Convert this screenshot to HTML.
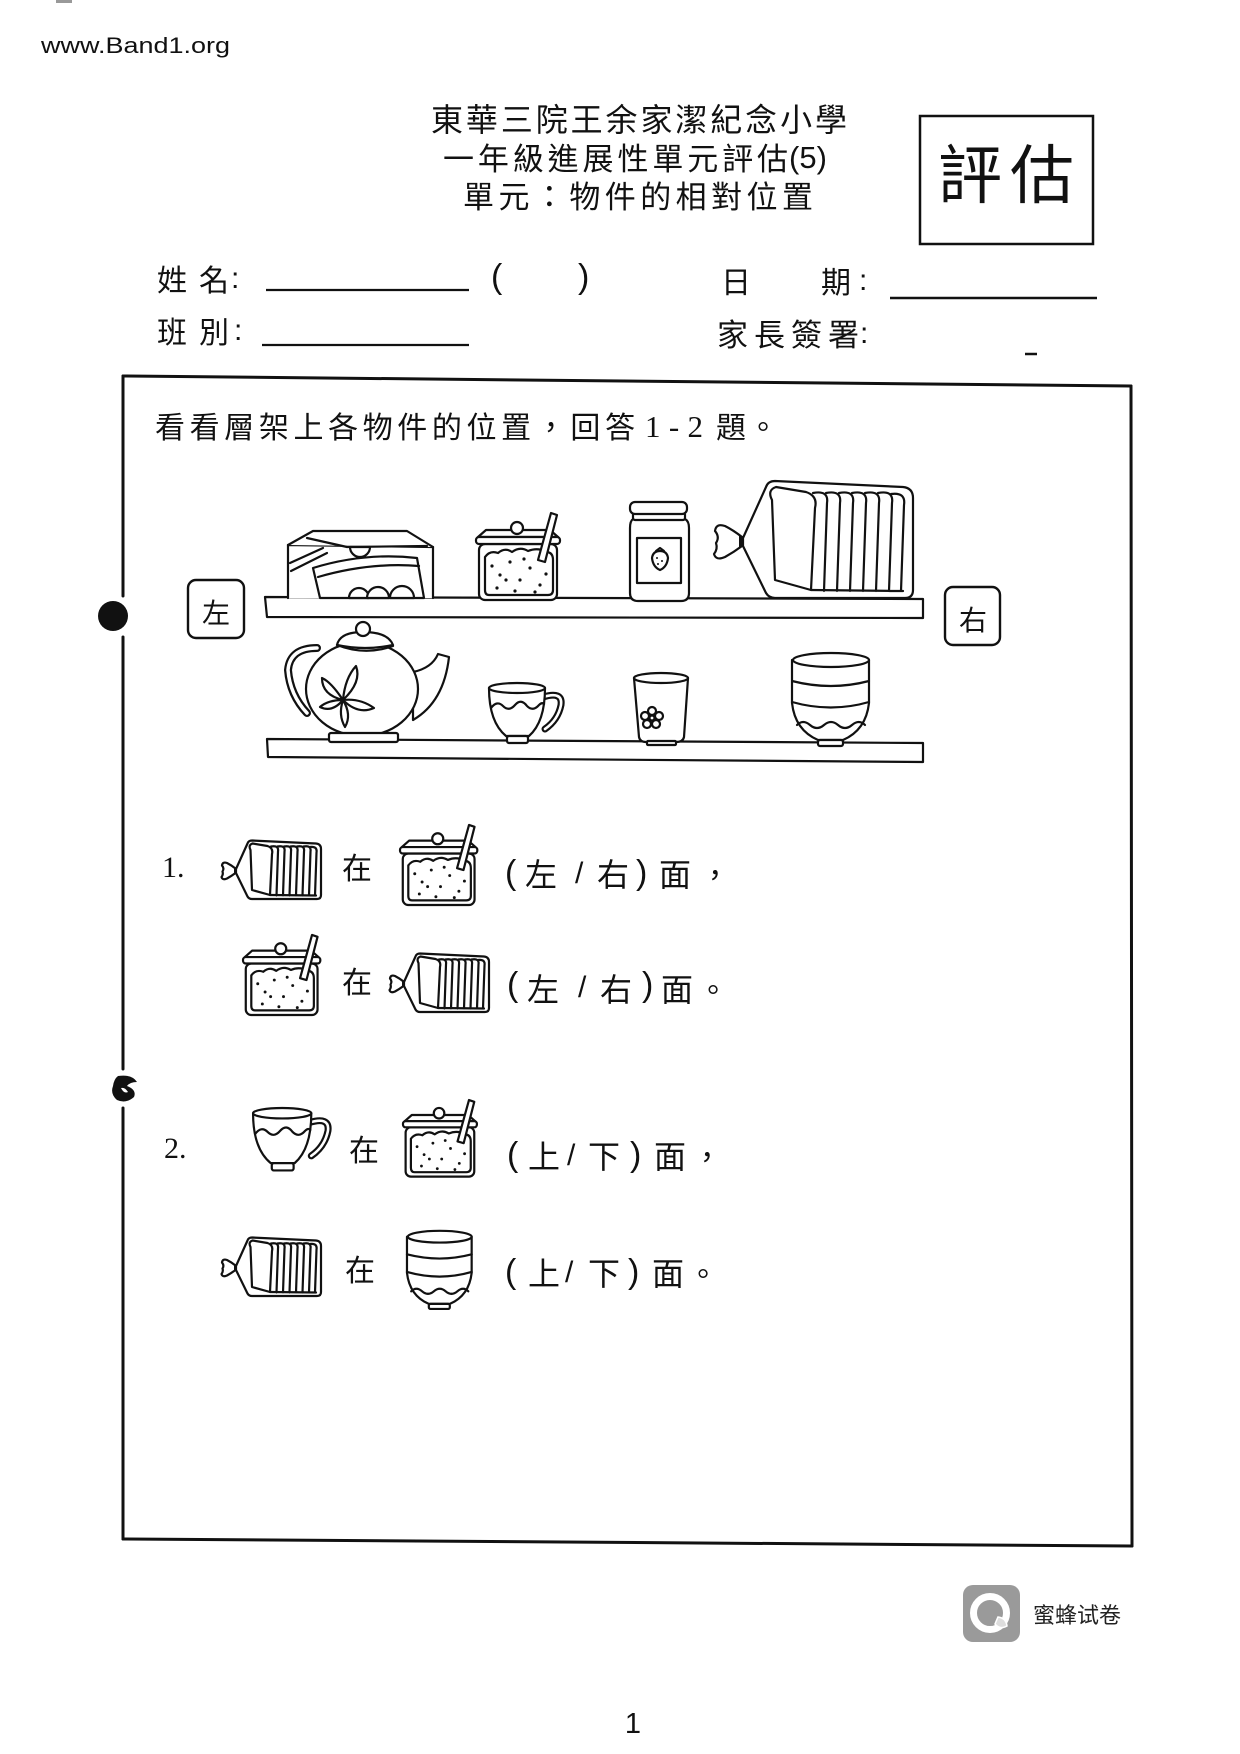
<!DOCTYPE html>
<html><head><meta charset="utf-8"><style>
html,body{margin:0;padding:0;background:#fff;}
svg{display:block;}
.c{font-family:"Liberation Sans","Noto Sans CJK TC",sans-serif;fill:#111;}
.s{font-family:"Liberation Serif","Noto Serif CJK SC",serif;fill:#111;}
.l{fill:none;stroke:#111;stroke-width:2.2;stroke-linejoin:round;stroke-linecap:round;}
.w{fill:#fff;stroke:#111;stroke-width:2.2;stroke-linejoin:round;stroke-linecap:round;}
.icon path,.icon rect,.icon ellipse,.icon circle,.icon polygon{vector-effect:non-scaling-stroke;}
</style></head><body>
<svg width="1240" height="1754" viewBox="0 0 1240 1754" xmlns="http://www.w3.org/2000/svg">
<defs>
<g id="bread" class="icon">
  <path class="w" d="M743,538 L766,487 Q768,481 775,481 L903,487 Q913,488 913,498 L913,590 Q913,598 905,598 L775,598 Q769,598 766,593 L743,546 Z"/>
  <path class="w" d="M742,537 Q733,530 725,526 Q716,523 715,531 Q720,537 716,543 Q718,549 714,554 Q716,561 725,557 Q734,552 742,546 Z"/>
  <rect x="739" y="536" width="5" height="11" fill="#111"/>
  <path class="w" d="M772,500 Q767,490 776,487 L806,492 Q818,496 815,508 L811,590 L775,580 Z"/>
  <path class="l" d="M813,493 Q829,490 827,503 L824,591 M826,493 Q842,490 840,503 L837,591 M839,493 Q855,490 853,503 L850,591 M852,493 Q868,490 866,503 L863,591 M865,493 Q881,490 879,503 L876,591 M878,493 Q894,490 892,503 L889,591 M891,494 Q906,492 904,505 L901,591 M811,590 L903,591"/>
</g>
<g id="sugar" class="icon">
  <rect class="w" x="479" y="544" width="78" height="56" rx="6"/>
  <path class="l" d="M485,557 Q490,550 498,553 Q505,547 512,552 Q520,546 528,551 Q538,547 546,552 Q553,552 553,560 L553,590 Q553,595 548,595 L489,595 Q485,595 485,590 Z"/>
  <g fill="#111">
    <circle cx="492" cy="566" r="1.6"/><circle cx="500" cy="575" r="1.6"/><circle cx="510" cy="562" r="1.6"/>
    <circle cx="520" cy="580" r="1.6"/><circle cx="530" cy="568" r="1.6"/><circle cx="540" cy="585" r="1.6"/>
    <circle cx="497" cy="588" r="1.6"/><circle cx="515" cy="591" r="1.6"/><circle cx="546" cy="574" r="1.6"/>
    <circle cx="524" cy="559" r="1.6"/><circle cx="506" cy="580" r="1.6"/><circle cx="535" cy="592" r="1.6"/>
  </g>
  <path class="w" d="M478,537 L486,530 L550,530 L558,537 Z"/>
  <rect class="w" x="476" y="537" width="84" height="7" rx="3"/>
  <circle class="w" cx="517" cy="528" r="6"/>
  <polygon class="w" points="538,560 551,513 557,515 545,562"/>
</g>
<g id="cup" class="icon">
  <path d="M543,697 Q563,691 561,705 Q558,720 545,729" fill="none" stroke="#111" stroke-width="7" stroke-linecap="round"/>
  <path d="M543,697 Q563,691 561,705 Q558,720 545,729" fill="none" stroke="#fff" stroke-width="2.6" stroke-linecap="round"/>
  <path class="w" d="M489,688 Q489,722 506,736 L529,736 Q545,722 545,688 Z"/>
  <ellipse class="w" cx="517" cy="688" rx="28" ry="5"/>
  <path class="l" d="M491,708 Q497,700 503,706 Q509,712 515,705 Q521,698 527,706 Q533,712 539,705 Q542,702 544,704"/>
  <rect class="w" x="507" y="736" width="21" height="7" rx="2"/>
</g>
<g id="bowls" class="icon">
  <path class="w" d="M792,660 L792,703 Q795,730 818,740 L843,740 Q866,730 869,703 L869,660 Z"/>
  <ellipse class="w" cx="831" cy="660" rx="38" ry="7"/>
  <path class="l" d="M792,681 Q831,691 869,681 M792,702 Q831,713 869,702"/>
  <path class="l" d="M797,725 Q803,719 810,725 Q817,731 824,725 Q831,719 838,725 Q845,731 852,725 Q859,719 865,725"/>
  <rect class="w" x="818" y="740" width="25" height="6" rx="2"/>
</g>
</defs>

<!-- top-left speck -->
<rect x="56" y="0" width="16" height="3" fill="#999"/>
<text x="41" y="53" font-family="Liberation Sans, sans-serif" font-size="22" textLength="189" lengthAdjust="spacingAndGlyphs" fill="#111">www.Band1.org</text>

<!-- Title -->
<text class="c" x="431" y="131" font-size="32" textLength="416" lengthAdjust="spacing">東華三院王余家潔紀念小學</text>
<text class="c" x="443" y="170" font-size="31" textLength="345" lengthAdjust="spacing">一年級進展性單元評估</text>
<text x="789" y="168" font-family="Liberation Sans, sans-serif" font-size="31" fill="#111">(5)</text>
<text class="c" x="463" y="208" font-size="31" textLength="350" lengthAdjust="spacing">單元：物件的相對位置</text>

<rect x="920" y="116" width="173" height="128" fill="none" stroke="#111" stroke-width="2.5"/>
<text class="c" x="938" y="198" font-size="64" textLength="136" lengthAdjust="spacing">評估</text>

<!-- Name rows -->
<text class="c" x="157" y="291" font-size="30" textLength="72" lengthAdjust="spacing">姓名</text>
<text x="231" y="288" font-family="Liberation Sans, sans-serif" font-size="30" fill="#111">:</text>
<line x1="266" y1="290" x2="469" y2="290" stroke="#111" stroke-width="2.2"/>
<text x="491" y="288" font-family="Liberation Sans, sans-serif" font-size="34" fill="#111">(</text>
<text x="578" y="288" font-family="Liberation Sans, sans-serif" font-size="34" fill="#111">)</text>
<text class="c" x="721" y="293" font-size="30">日</text>
<text class="c" x="821" y="293" font-size="30">期</text>
<text x="859" y="290" font-family="Liberation Sans, sans-serif" font-size="30" fill="#111">:</text>
<line x1="890" y1="298" x2="1097" y2="298" stroke="#111" stroke-width="2.4"/>

<text class="c" x="157" y="343" font-size="30" textLength="72" lengthAdjust="spacing">班別</text>
<text x="234" y="340" font-family="Liberation Sans, sans-serif" font-size="30" fill="#111">:</text>
<line x1="262" y1="345" x2="469" y2="345" stroke="#111" stroke-width="2.2"/>
<text class="c" x="717" y="346" font-size="31" textLength="142" lengthAdjust="spacing">家長簽署</text>
<text x="860" y="343" font-family="Liberation Sans, sans-serif" font-size="30" fill="#111">:</text>
<line x1="1025" y1="354" x2="1037" y2="354" stroke="#111" stroke-width="2.5"/>

<!-- Frame -->
<g stroke="#111" stroke-width="3" fill="none" stroke-linecap="round">
  <path d="M123,376 L1131,386"/>
  <path d="M1131,386 L1132,1546"/>
  <path d="M123,1539 L1132,1546"/>
  <path d="M123,376 L123,596 M123,637 L123,1069 M123,1108 L123,1539"/>
</g>
<circle cx="113" cy="616" r="15" fill="#111"/>
<path d="M118,1076 Q132,1074 137,1082 Q130,1082 127,1086 Q137,1090 134,1097 Q126,1104 117,1100 Q110,1094 113,1086 Q114,1079 118,1076 Z M121,1088 Q124,1094 128,1092 Q125,1087 121,1088 Z" fill="#111" fill-rule="evenodd"/>

<!-- Instruction -->
<text class="c" x="155" y="438" font-size="30" textLength="480" lengthAdjust="spacing">看看層架上各物件的位置，回答</text>
<text class="s" x="645" y="437" font-size="31" textLength="58" lengthAdjust="spacing">1-2</text>
<text class="c" x="716" y="438" font-size="30">題</text>
<text class="c" x="748" y="438" font-size="30">。</text>

<!-- Shelves -->
<path class="w" d="M265,597 L923,599 L923,618 L267,617 Z" stroke-width="2.8"/>
<path class="w" d="M267,739 L923,743 L923,762 L268,757 Z" stroke-width="2.8"/>

<rect x="188" y="580" width="56" height="58" rx="8" fill="none" stroke="#111" stroke-width="2.4"/>
<text class="c" x="202" y="623" font-size="28">左</text>
<rect x="945" y="587" width="55" height="58" rx="8" fill="none" stroke="#111" stroke-width="2.4"/>
<text class="c" x="959" y="630" font-size="28">右</text>

<!-- Cereal box -->
<g>
  <path class="w" d="M288,598 L288,545 L433,547 L433,598"/>
  <path class="w" d="M288,545 L313,531 L407,531 L433,547"/>
  <path class="l" d="M307,538 L347,547 L427,546"/>
  <path class="w" d="M350,547 A10,10 0 0 0 370,547 Z"/>
  <path class="l" d="M290,563 L323,548 M291,571 L327,553"/>
  <path class="w" d="M313,568 Q365,552 417,558 L424,598 L320,598 Z"/>
  <path class="l" d="M318,577 Q370,562 419,566"/>
  <path class="w" d="M349,598 A10,10 0 0 1 369,598 Z"/>
  <path class="w" d="M367,598 A11,11 0 0 1 389,598 Z"/>
  <path class="w" d="M390,598 A12,12 0 0 1 414,598 Z"/>
</g>

<use href="#sugar"/>

<!-- Jam jar -->
<g>
  <path class="w" d="M633,519 Q630,521 630,528 L630,593 Q630,601 638,601 L681,601 Q689,601 689,593 L689,528 Q689,521 685,519 Z"/>
  <rect class="w" x="633" y="513" width="52" height="7" rx="2"/>
  <rect class="w" x="630" y="502" width="57" height="12" rx="5"/>
  <rect class="w" x="637" y="538" width="44" height="45"/>
  <path class="w" d="M660,551 Q667,551 668,558 Q667,567 660,570 Q653,567 652,558 Q653,551 660,551 Z"/>
  <path class="l" d="M656,551 L660,548 L664,551"/>
  <g fill="#111"><circle cx="657" cy="558" r="1"/><circle cx="662" cy="561" r="1"/><circle cx="658" cy="564" r="1"/></g>
</g>

<use href="#bread"/>

<!-- Teapot -->
<g>
  <path d="M317,648 Q290,648 288,670 Q290,695 307,713" fill="none" stroke="#111" stroke-width="8" stroke-linecap="round"/>
  <path d="M317,648 Q290,648 288,670 Q290,695 307,713" fill="none" stroke="#fff" stroke-width="3.5" stroke-linecap="round"/>
  <path class="w" d="M413,672 Q432,668 438,654 L449,657 Q444,702 413,720 Z"/>
  <ellipse class="w" cx="362" cy="689" rx="56" ry="47"/>
  <rect class="w" x="329" y="733" width="69" height="9" rx="2"/>
  <path class="w" d="M337,645 Q340,632 363,632 Q388,632 393,645 Q365,651 337,645 Z"/>
  <path class="l" d="M337,645 Q365,656 393,646"/>
  <circle class="w" cx="363" cy="629" r="7"/>
  <g>
    <path class="w" d="M343,700 Q345,678 356,666 Q362,682 343,700 Z"/>
    <path class="w" d="M343,700 Q331,682 322,678 Q322,695 343,700 Z"/>
    <path class="w" d="M343,700 Q328,700 320,707 Q332,713 343,700 Z"/>
    <path class="w" d="M343,700 Q338,715 345,727 Q352,715 343,700 Z"/>
    <path class="w" d="M343,700 Q360,698 374,708 Q358,715 343,700 Z"/>
    <circle cx="343" cy="700" r="2" fill="#111"/>
  </g>
</g>

<use href="#cup"/>

<!-- Glass -->
<g>
  <path class="w" d="M634,678 L688,678 L684,737 Q683,742 676,742 L646,742 Q640,742 639,737 Z"/>
  <ellipse class="w" cx="661" cy="678" rx="27" ry="5"/>
  <rect class="w" x="647" y="741" width="29" height="4" rx="1"/>
  <g class="w" stroke-width="1.8">
    <circle cx="652" cy="711" r="4"/><circle cx="659" cy="716" r="4"/><circle cx="656" cy="724" r="4"/>
    <circle cx="647" cy="724" r="4"/><circle cx="645" cy="716" r="4"/><circle cx="652" cy="718" r="2.5"/>
  </g>
</g>

<use href="#bowls"/>

<!-- Question 1 -->
<text class="s" x="162" y="877" font-size="30">1.</text>
<use href="#bread" transform="translate(-135.5,600) scale(0.5)"/>
<text class="c" x="342" y="879" font-size="30">在</text>
<use href="#sugar" transform="translate(-37.9,353) scale(0.92)"/>
<text x="505" y="884" font-family="Liberation Sans, sans-serif" font-size="34" fill="#111">(</text>
<text class="c" x="525" y="886" font-size="32">左</text>
<text x="575" y="883" font-family="Liberation Sans, sans-serif" font-size="30" fill="#111">/</text>
<text class="c" x="597" y="886" font-size="32">右</text>
<text x="636" y="884" font-family="Liberation Sans, sans-serif" font-size="34" fill="#111">)</text>
<text class="c" x="659" y="886" font-size="32">面</text>
<text class="c" x="700" y="886" font-size="30">，</text>

<use href="#sugar" transform="translate(-194.9,463) scale(0.92)"/>
<text class="c" x="342" y="993" font-size="30">在</text>
<use href="#bread" transform="translate(32.5,713) scale(0.5)"/>
<text x="507" y="996" font-family="Liberation Sans, sans-serif" font-size="34" fill="#111">(</text>
<text class="c" x="527" y="1001" font-size="32">左</text>
<text x="578" y="997" font-family="Liberation Sans, sans-serif" font-size="30" fill="#111">/</text>
<text class="c" x="600" y="1001" font-size="32">右</text>
<text x="642" y="996" font-family="Liberation Sans, sans-serif" font-size="34" fill="#111">)</text>
<text class="c" x="661" y="1001" font-size="32">面</text>
<text class="c" x="698" y="1001" font-size="30">。</text>

<!-- Question 2 -->
<text class="s" x="164" y="1158" font-size="30">2.</text>
<use href="#cup" transform="translate(-255.5,397.7) scale(1.04)"/>
<text class="c" x="349" y="1161" font-size="30">在</text>
<use href="#sugar" transform="translate(-15.9,648.6) scale(0.88)"/>
<text x="507" y="1166" font-family="Liberation Sans, sans-serif" font-size="34" fill="#111">(</text>
<text class="c" x="528" y="1168" font-size="32">上</text>
<text x="567" y="1165" font-family="Liberation Sans, sans-serif" font-size="30" fill="#111">/</text>
<text class="c" x="588" y="1168" font-size="32">下</text>
<text x="630" y="1166" font-family="Liberation Sans, sans-serif" font-size="34" fill="#111">)</text>
<text class="c" x="654" y="1168" font-size="32">面</text>
<text class="c" x="692" y="1168" font-size="30">，</text>

<use href="#bread" transform="translate(-135.5,997) scale(0.5)"/>
<text class="c" x="345" y="1281" font-size="30">在</text>
<use href="#bowls" transform="translate(-258.3,682.3) scale(0.84)"/>
<text x="505" y="1283" font-family="Liberation Sans, sans-serif" font-size="34" fill="#111">(</text>
<text class="c" x="528" y="1285" font-size="32">上</text>
<text x="565" y="1282" font-family="Liberation Sans, sans-serif" font-size="30" fill="#111">/</text>
<text class="c" x="588" y="1285" font-size="32">下</text>
<text x="628" y="1283" font-family="Liberation Sans, sans-serif" font-size="34" fill="#111">)</text>
<text class="c" x="652" y="1285" font-size="32">面</text>
<text class="c" x="688" y="1285" font-size="30">。</text>

<!-- Watermark logo -->
<rect x="963" y="1585" width="57" height="57" rx="10" fill="#9a9a9a"/>
<circle cx="990" cy="1613" r="16.5" fill="none" stroke="#fff" stroke-width="7"/>
<path d="M998,1617 Q1006,1618 1007,1626 Q1000,1630 995,1624 Z" fill="#ddd" stroke="#fff" stroke-width="1.5"/>
<text x="1033" y="1623" font-family="'Liberation Sans','Noto Sans CJK SC',sans-serif" font-size="22" fill="#222">蜜蜂试卷</text>

<!-- Page number -->
<text x="633" y="1733" text-anchor="middle" font-family="Liberation Sans, sans-serif" font-size="29" fill="#111">1</text>
</svg>
</body></html>
